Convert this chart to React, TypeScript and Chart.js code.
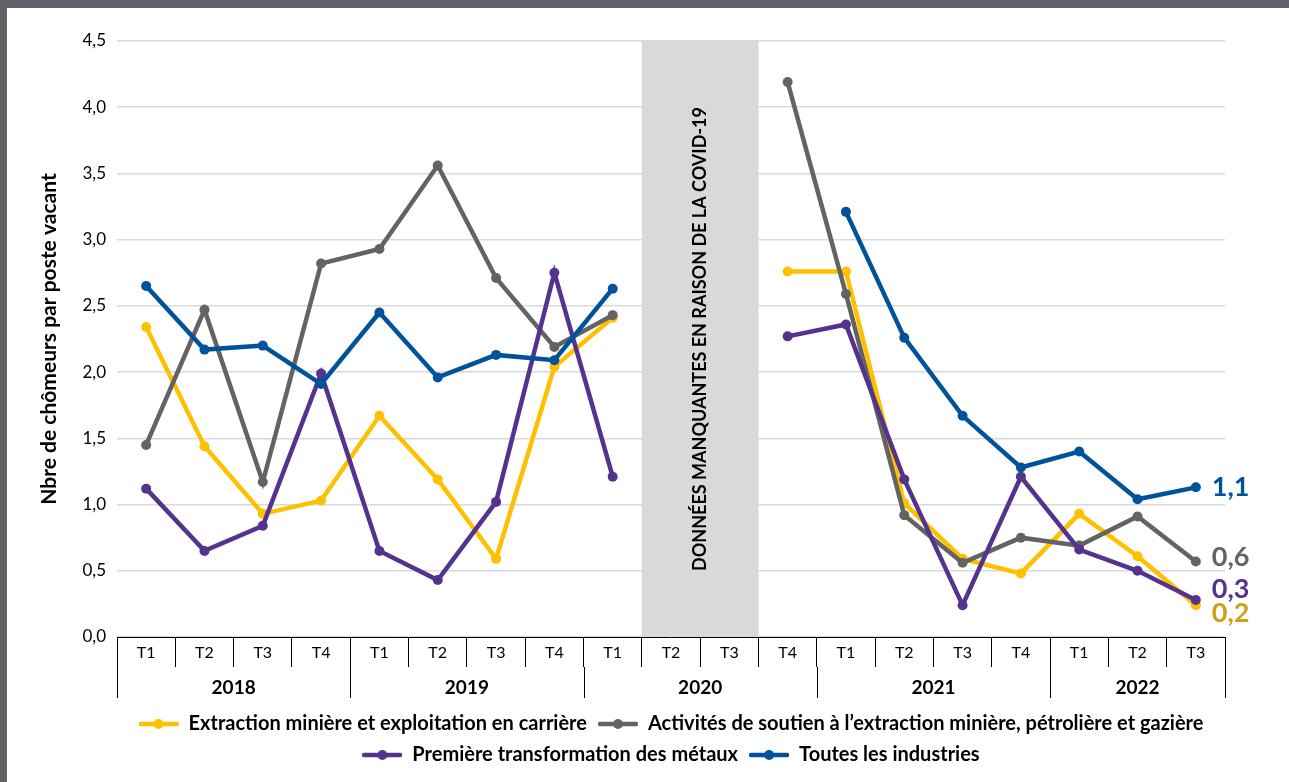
import React, { useEffect, useRef } from "react";
import { Chart, registerables } from "chart.js";

Chart.register(...registerables);

const quarters = ["T1", "T2", "T3", "T4", "T1", "T2", "T3", "T4", "T1", "T2", "T3", "T4", "T1", "T2", "T3", "T4", "T1", "T2", "T3"];
const years = ["2018", "2019", "2020", "2021", "2022"];
const yearSpans = [4, 4, 4, 4, 3];
const missingQuarters = [9, 10];
const missingText = "DONNÉES MANQUANTES EN RAISON DE LA COVID-19";

const seriesNames = [
  "Extraction minière et exploitation en carrière",
  "Activités de soutien à l’extraction minière, pétrolière et gazière",
  "Première transformation des métaux",
  "Toutes les industries",
];
const extraction = [2.34, 1.44, 0.93, 1.03, 1.67, 1.19, 0.59, 2.04, 2.41, null, null, 2.76, 2.76, 1.01, 0.59, 0.48, 0.93, 0.61, 0.24];
const soutien = [1.45, 2.47, 1.17, 2.82, 2.93, 3.56, 2.71, 2.19, 2.43, null, null, 4.19, 2.59, 0.92, 0.56, 0.75, 0.69, 0.91, 0.57];
const metaux = [1.12, 0.65, 0.84, 1.99, 0.65, 0.43, 1.02, 2.75, 1.21, null, null, 2.27, 2.36, 1.19, 0.24, 1.21, 0.66, 0.5, 0.28];
const toutes = [2.65, 2.17, 2.2, 1.91, 2.45, 1.96, 2.13, 2.09, 2.63, null, null, null, 3.21, 2.26, 1.67, 1.28, 1.4, 1.04, 1.13];
const endLabels = ["0,2", "0,6", "0,3", "1,1"];

const lineColors = ["#FFC000", "#636363", "#54338F", "#00539B"];
const endLabelColors = ["#CF9E1C", "#636363", "#54338F", "#00539B"];
const endLabelDy = [8, -4, -11, 0];

const FONT = "Lato";

function makeLegendIcon(color: string) {
  const c = document.createElement("canvas");
  c.width = 40;
  c.height = 12;
  const g = c.getContext("2d")!;
  g.strokeStyle = color;
  g.lineWidth = 4.5;
  g.lineCap = "round";
  g.beginPath();
  g.moveTo(2, 6);
  g.lineTo(38, 6);
  g.stroke();
  g.fillStyle = color;
  g.beginPath();
  g.arc(20, 6, 5, 0, Math.PI * 2);
  g.fill();
  return c;
}

const covidPlugin = {
  id: "covidBand",
  beforeDatasetsDraw(chart: any) {
    const { ctx, chartArea, scales } = chart;
    const x = scales.x;
    const half = (x.getPixelForValue(1) - x.getPixelForValue(0)) / 2;
    const x0 = x.getPixelForValue(missingQuarters[0]) - half;
    const x1 = x.getPixelForValue(missingQuarters[missingQuarters.length - 1]) + half;
    ctx.save();
    ctx.fillStyle = "#D9D9D9";
    ctx.fillRect(x0, chartArea.top, x1 - x0, chartArea.bottom - chartArea.top);
    ctx.translate((x0 + x1) / 2, (chartArea.top + chartArea.bottom) / 2);
    ctx.rotate(-Math.PI / 2);
    ctx.fillStyle = "#000";
    ctx.font = `bold 18px ${FONT}`;
    ctx.textAlign = "center";
    ctx.textBaseline = "middle";
    ctx.fillText(missingText, 0, 0);
    ctx.restore();
  },
};

const yearAxisPlugin = {
  id: "yearAxis",
  afterDraw(chart: any) {
    const { ctx, chartArea, scales } = chart;
    const x = scales.x;
    const half = (x.getPixelForValue(1) - x.getPixelForValue(0)) / 2;
    ctx.save();
    ctx.strokeStyle = "#000";
    ctx.lineWidth = 1;
    ctx.fillStyle = "#000";
    ctx.font = `bold 19px ${FONT}`;
    ctx.textAlign = "center";
    ctx.textBaseline = "middle";
    let start = 0;
    const y0 = chartArea.bottom + 30;
    const y1 = chartArea.bottom + 61;
    const boundaries: number[] = [start];
    years.forEach((yr, i) => {
      const end = start + yearSpans[i];
      const left = x.getPixelForValue(start) - half;
      const right = x.getPixelForValue(end - 1) + half;
      ctx.fillText(yr, (left + right) / 2, chartArea.bottom + 51);
      boundaries.push(end);
      start = end;
    });
    boundaries.forEach((b) => {
      const px = Math.round(x.getPixelForValue(b) - half) + 0.5;
      const pxx = b >= quarters.length ? Math.round(x.getPixelForValue(b - 1) + half) + 0.5 : px;
      ctx.beginPath();
      ctx.moveTo(pxx, y0);
      ctx.lineTo(pxx, y1);
      ctx.stroke();
    });
    ctx.restore();

    // end labels
    ctx.save();
    ctx.font = `bold 27px ${FONT}`;
    ctx.textAlign = "left";
    ctx.textBaseline = "middle";
    chart.data.datasets.forEach((ds: any, i: number) => {
      const meta = chart.getDatasetMeta(i);
      const pt = meta.data[meta.data.length - 1];
      if (!pt) return;
      ctx.fillStyle = endLabelColors[i];
      ctx.fillText(endLabels[i], pt.x + 16, pt.y + endLabelDy[i]);
    });
    ctx.restore();
  },
};

export default function App() {
  const ref = useRef<HTMLCanvasElement | null>(null);
  useEffect(() => {
    if (!ref.current) return;
    const allData = [extraction, soutien, metaux, toutes];
    const icons = lineColors.map(makeLegendIcon);
    const chart = new Chart(ref.current, {
      type: "line",
      data: {
        labels: quarters,
        datasets: allData.map((d, i) => ({
          label: seriesNames[i],
          data: d,
          borderColor: lineColors[i],
          backgroundColor: lineColors[i],
          borderWidth: 4.5,
          pointRadius: 5,
          pointBorderWidth: 0,
          pointBackgroundColor: lineColors[i],
          spanGaps: false,
          tension: 0,
          order: 3 - i,
        })),
      },
      options: {
        responsive: false,
        animation: false,
        layout: { padding: { left: 0, right: 64, top: 33, bottom: 7 } },
        plugins: {
          tooltip: { enabled: false },
          legend: {
            position: "bottom",
            fullSize: false,
            labels: {
              usePointStyle: true,
              pointStyleWidth: 40,
              padding: 11,
              color: "#000",
              font: { family: FONT, size: 20, weight: "bold" },
              sort: (a: any, b: any) => a.datasetIndex - b.datasetIndex,
              generateLabels: (c: any) => {
                const items = Chart.defaults.plugins.legend.labels.generateLabels(c);
                return items.map((it: any) => ({ ...it, pointStyle: icons[it.datasetIndex], lineWidth: 0 }));
              },
            },
          },
        },
        scales: {
          x: {
            type: "category",
            offset: true,
            afterFit: (s: any) => {
              s.height = 66;
            },
            grid: {
              display: true,
              offset: true,
              drawOnChartArea: false,
              drawTicks: true,
              tickLength: 30,
              color: "#000",
              lineWidth: 1,
            },
            border: { display: true, color: "#000", width: 1 },
            ticks: {
              autoSkip: false,
              maxRotation: 0,
              padding: -24,
              color: "#000",
              font: { family: FONT, size: 16 },
            },
          },
          y: {
            min: 0,
            max: 4.5,
            afterFit: (s: any) => {
              s.width = 110;
            },
            grid: { color: "#D9D9D9", lineWidth: 1.5, drawTicks: false },
            border: { display: false },
            ticks: {
              stepSize: 0.5,
              padding: 11,
              color: "#000",
              font: { family: FONT, size: 17 },
              callback: (v: any) => Number(v).toFixed(1).replace(".", ","),
            },
            title: {
              display: true,
              text: "Nbre de chômeurs par poste vacant",
              color: "#000",
              font: { family: FONT, size: 21, weight: "bold" },
              padding: { top: 30, bottom: 0 },
            },
          },
        },
      },
      plugins: [covidPlugin, yearAxisPlugin],
    });
    return () => chart.destroy();
  }, []);

  return (
    <div style={{ position: "fixed", left: 0, top: 0, width: 1289, height: 782, background: "#616268", overflow: "hidden" }}>
      <div style={{ position: "absolute", left: 7, top: 8, width: 1282, height: 774, background: "#fff" }}>
        <canvas ref={ref} width={1282} height={774} style={{ display: "block" }} />
      </div>
    </div>
  );
}
